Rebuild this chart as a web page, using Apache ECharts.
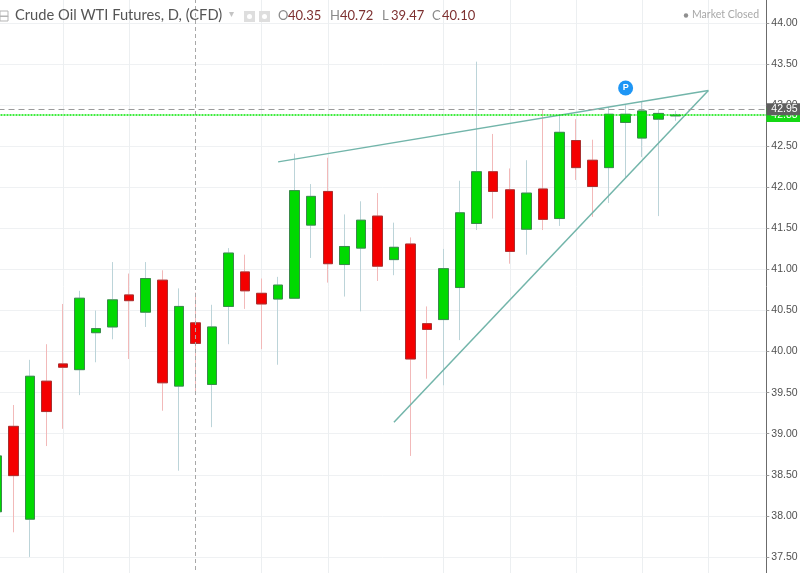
<!DOCTYPE html>
<html>
<head>
<meta charset="utf-8">
<title>Crude Oil WTI Futures</title>
<script src="https://cdn.jsdelivr.net/npm/echarts@6/dist/echarts.min.js"></script>
<style>
html,body{margin:0;padding:0;background:#fff;}
#chart{width:800px;height:573px;}
</style>
</head>
<body>
<div id="chart"></div>
<script>
// daily bars, left to right
var open_ = [38.05,39.09,37.96,39.64,39.85,39.78,40.23,40.30,40.69,40.48,40.87,39.58,40.35,39.60,40.55,40.97,40.71,40.64,40.65,41.54,41.95,41.06,41.26,41.65,41.12,41.31,40.34,40.39,40.78,41.56,42.19,41.97,41.49,41.98,41.62,42.57,42.33,42.24,42.79,42.60,42.83,42.87];
var close_ = [38.73,38.49,39.70,39.27,39.81,40.65,40.28,40.63,40.62,40.89,39.62,40.55,40.10,40.30,41.20,40.74,40.58,40.81,41.96,41.89,41.07,41.28,41.60,41.04,41.27,39.91,40.27,41.01,41.69,42.19,41.95,41.22,41.93,41.61,42.67,42.24,42.01,42.89,42.89,42.93,42.90,42.88];
var low_ = [38.05,37.80,37.50,38.85,39.06,39.47,39.87,40.15,39.91,40.30,39.28,38.55,39.47,39.08,40.09,40.52,40.03,39.84,40.65,41.14,40.84,40.67,40.49,40.86,40.93,38.73,39.67,39.59,40.14,41.48,41.62,41.07,41.18,41.48,41.53,42.09,41.64,41.81,42.12,42.37,41.65,42.81];
var high_ = [38.73,39.35,39.90,40.09,40.58,40.74,40.50,41.09,40.95,41.09,40.99,40.77,40.72,40.57,41.26,41.18,40.89,40.91,42.41,42.04,42.36,41.67,41.83,41.93,41.57,41.39,40.55,41.25,42.08,43.53,42.65,42.23,42.33,42.94,42.88,42.83,42.58,42.98,43.01,43.05,42.94,42.93];

var yTicksMin = 37, yTicksMax = 44.5;
var gridBars = [4,8,16,20,27,31,35,39,43];
var crossBar = 12;
var lastPrice = 42.95, closePrice = 42.885;
var upperTrend = [[17,42.31],[43,43.18]];
var lowerTrend = [[24,39.14],[43,43.18]];
var flagBar = 38, flagPrice = 43.21;
var legendKeys = ['O','H','L','C'];
var legendValues = ['40.35','40.72','39.47','40.10'];
var legendKeyX = [278,330,382,432];
var legendValueX = [288,340,391,442];

var categories = [];
for(var i = 0;i < 47;i++){
    categories.push('bar' + i);
}

var wicks = [], bodies = [];
for(var i = 0;i < open_.length;i++){
    wicks.push([open_[i],close_[i],low_[i],high_[i]]);
    bodies.push([open_[i],close_[i],Math.min(open_[i],close_[i]),Math.max(open_[i],close_[i])]);
}

var vLines = gridBars.map(function(b){
    return {xAxis:categories[b]};
});

var headerItems = [
    {type:'rect',shape:{x:0,y:11,width:8,height:10},style:{fill:'none',stroke:'#b5b5b5',lineWidth:1},z:20},
    {type:'rect',shape:{x:0,y:16,width:8,height:0.5},style:{fill:'none',stroke:'#b5b5b5',lineWidth:1},z:20},
    {type:'text',x:15,y:8,z:20,style:{text:'Crude Oil WTI Futures, D, (CFD)',fill:'#555555',font:'14.7px Lato'}},
    {type:'text',x:229,y:9,z:20,style:{text:'▾',fill:'#c4c4c4',font:'10px "DejaVu Sans"'}},
    {type:'rect',shape:{x:244,y:11,width:11,height:11},style:{fill:'#dedede'},z:20},
    {type:'rect',shape:{x:259,y:11,width:11,height:11},style:{fill:'#dedede'},z:20},
    {type:'circle',shape:{cx:249.5,cy:16.5,r:2.5},style:{fill:'#ffffff'},z:21},
    {type:'circle',shape:{cx:264.5,cy:16.5,r:2.5},style:{fill:'#ffffff'},z:21},
    {type:'circle',shape:{cx:686,cy:15.5,r:2.2},style:{fill:'#8f8f8f'},z:20},
    {type:'text',x:692,y:9.5,z:20,style:{text:'Market Closed',fill:'#a8a8a8',font:'10.5px Lato'}}
];
for(var i = 0;i < legendKeys.length;i++){
    headerItems.push({type:'text',x:legendKeyX[i],y:9,z:20,style:{text:legendKeys[i],fill:'#8a8a8a',font:'13px Lato'}});
    headerItems.push({type:'text',x:legendValueX[i],y:9,z:20,style:{text:legendValues[i],fill:'#7d3030',font:'13px Lato'}});
}

var chart = echarts.init(document.getElementById('chart'));
var option = {
    animation:false,
    backgroundColor:'#ffffff',
    grid:{left:-11.5,right:33.7,top:-18,bottom:-25,outerBoundsMode:'none'},
    xAxis:{
        type:'category',
        data:categories,
        axisLine:{show:false},
        axisTick:{show:false},
        axisLabel:{show:false},
        splitLine:{show:false}
    },
    yAxis:{
        type:'value',
        position:'right',
        min:yTicksMin,
        max:yTicksMax,
        interval:0.5,
        axisLine:{show:true,lineStyle:{color:'#6b6b6b',width:1}},
        axisTick:{show:true,length:3,lineStyle:{color:'#9a9a9a'}},
        axisLabel:{
            color:'#505050',
            fontFamily:'Liberation Sans',
            fontSize:10.5,
            margin:5,
            padding:[2,0,0,0],
            formatter:function(v){return v.toFixed(2);}
        },
        splitLine:{show:true,lineStyle:{color:'#eff1f3',width:1}}
    },
    series:[
        {
            // thin pale wicks
            type:'candlestick',
            data:wicks,
            barWidth:10,
            z:2,
            itemStyle:{color:'#00d900',color0:'#f40000',borderColor:'#bcd4d9',borderColor0:'#f2b9b9',borderWidth:1},
            markLine:{
                silent:true,
                symbol:'none',
                z:1,
                label:{show:false},
                lineStyle:{color:'#eceff1',width:1,type:'solid'},
                data:vLines
            }
        },
        {
            // bodies with dark outline, drawn over the wicks
            type:'candlestick',
            data:bodies,
            barWidth:10,
            z:3,
            itemStyle:{color:'#00d900',color0:'#f40000',borderColor:'#3a8a4a',borderColor0:'#a83030',borderWidth:1},
            markLine:{
                silent:true,
                symbol:'none',
                z:6,
                label:{show:false},
                lineStyle:{color:'#a8a8a8',width:1,type:[4,3]},
                data:[{xAxis:categories[crossBar]}]
            }
        },
        {
            type:'line',
            data:upperTrend,
            showSymbol:false,
            z:7,
            lineStyle:{color:'#72b5aa',width:1.5}
        },
        {
            type:'line',
            data:lowerTrend,
            showSymbol:false,
            z:7,
            lineStyle:{color:'#72b5aa',width:1.5},
            markPoint:{
                silent:true,
                symbol:'circle',
                symbolSize:15,
                itemStyle:{color:'#1e96f5'},
                label:{show:true,formatter:'P',color:'#fff',fontFamily:'Liberation Sans',fontSize:9,fontWeight:'bold'},
                data:[{coord:[categories[flagBar],flagPrice]}]
            }
        },
        {
            type:'line',
            data:[],
            z:8,
            markLine:{
                silent:true,
                symbol:'none',
                z:8,
                lineStyle:{color:'#00e600',width:1.5,type:[2,1],opacity:1},
                label:{
                    show:true,
                    position:'end',
                    distance:0,
                    formatter:'42.88',
                    color:'#ffffff',
                    fontFamily:'Liberation Sans',
                    fontSize:10.5,
                    backgroundColor:'#14d814',
                    width:34,
                    height:14,
                    lineHeight:14,
                    align:'left',
                    padding:[0,0,0,5]
                },
                data:[{yAxis:closePrice,lineStyle:{color:'#00e600',width:1.5,type:[2,1]}}]
            }
        },
        {
            type:'line',
            data:[],
            z:9,
            markLine:{
                silent:true,
                symbol:'none',
                z:9,
                lineStyle:{color:'#9a9a9a',width:1,type:[6,4]},
                label:{
                    show:true,
                    position:'end',
                    distance:0,
                    formatter:function(){return lastPrice.toFixed(2);},
                    color:'#ffffff',
                    fontFamily:'Liberation Sans',
                    fontSize:10.5,
                    backgroundColor:'#5f5f5f',
                    width:34,
                    height:12,
                    lineHeight:12,
                    align:'left',
                    padding:[0,0,0,5]
                },
                data:[{yAxis:lastPrice}]
            }
        }
    ],
    graphic:headerItems
};
chart.setOption(option);
</script>
</body>
</html>
